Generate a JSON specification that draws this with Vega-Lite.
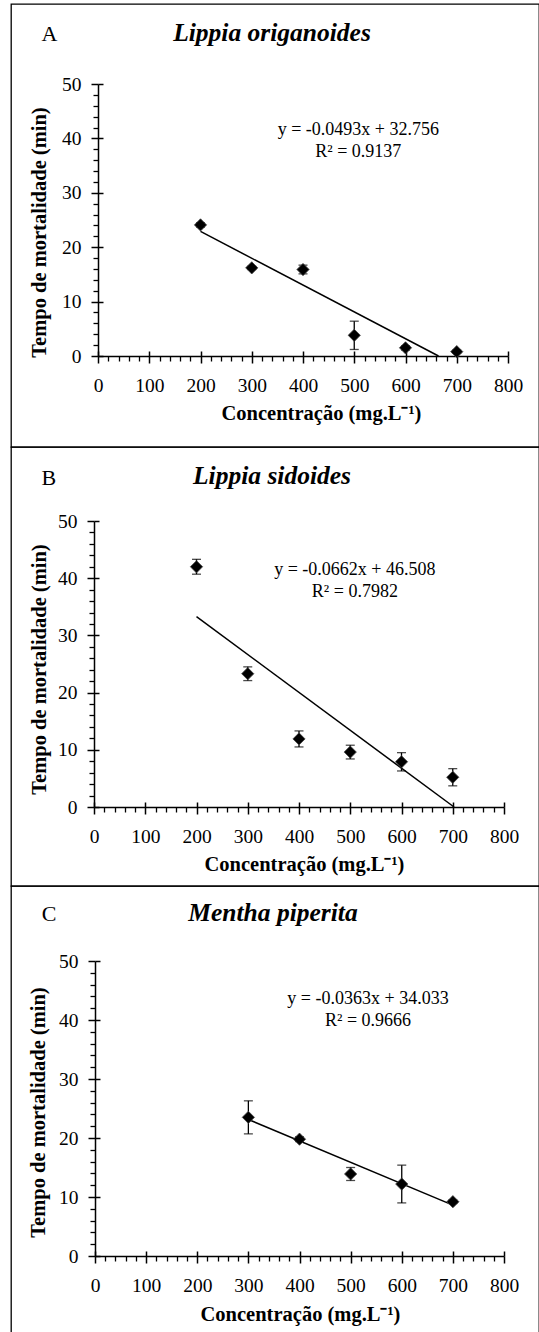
{
  "$schema": "https://vega.github.io/schema/vega-lite/v6.json",
  "background": "white",
  "padding": {"left": 10, "top": 3, "right": 0, "bottom": 0},
  "spacing": 0,
  "bounds": "flush",
  "config": {"view": {"stroke": "black", "strokeWidth": 1.3}, "font": "Liberation Serif"},
  "datasets": {
    "points": [
      {"panel": "A", "c": 200, "t": 24.1, "e": 0.4},
      {"panel": "A", "c": 300, "t": 16.2, "e": 0.3},
      {"panel": "A", "c": 400, "t": 15.9, "e": 0.8},
      {"panel": "A", "c": 500, "t": 3.8, "e": 2.6},
      {"panel": "A", "c": 600, "t": 1.5, "e": 0.4},
      {"panel": "A", "c": 700, "t": 0.8, "e": 0.3},
      {"panel": "B", "c": 200, "t": 42.0, "e": 1.3},
      {"panel": "B", "c": 300, "t": 23.3, "e": 1.2},
      {"panel": "B", "c": 400, "t": 11.9, "e": 1.4},
      {"panel": "B", "c": 500, "t": 9.6, "e": 1.2},
      {"panel": "B", "c": 600, "t": 7.9, "e": 1.6},
      {"panel": "B", "c": 700, "t": 5.2, "e": 1.5},
      {"panel": "C", "c": 300, "t": 23.5, "e": 2.8},
      {"panel": "C", "c": 400, "t": 19.8, "e": 0.4},
      {"panel": "C", "c": 500, "t": 13.9, "e": 1.1},
      {"panel": "C", "c": 600, "t": 12.2, "e": 3.2},
      {"panel": "C", "c": 700, "t": 9.2, "e": 0.3}
    ],
    "fits": [
      {"panel": "A", "c": 200, "t": 22.9},
      {"panel": "A", "c": 664.4, "t": 0},
      {"panel": "B", "c": 200, "t": 33.27},
      {"panel": "B", "c": 702.5, "t": 0},
      {"panel": "C", "c": 300, "t": 23.14},
      {"panel": "C", "c": 700, "t": 8.62}
    ]
  },
  "vconcat": [
    {
      "width": 528, "height": 443,
      "title": {"text": "Lippia origanoides", "font": "Liberation Serif", "fontSize": 25.5, "fontWeight": "bold", "fontStyle": "italic", "color": "black", "anchor": "middle", "frame": "group", "baseline": "alphabetic", "offset": -62, "dx": -3},
      "resolve": {"axis": {"x": "independent", "y": "independent"}},
      "layer": [
        {
          "data": {"name": "points"},
          "transform": [{"filter": "datum.panel === 'A'"}],
          "mark": {"type": "errorbar", "color": "black", "ticks": {"size": 9, "thickness": 1.3, "color": "black"}, "rule": {"strokeWidth": 1.3, "color": "black"}},
          "encoding": {
            "x": {"field": "c", "type": "quantitative", "axis": null},
            "y": {"field": "t", "type": "quantitative", "axis": null},
            "yError": {"field": "e"}
          }
        },
        {
          "data": {"name": "fits"},
          "transform": [{"filter": "datum.panel === 'A'"}],
          "mark": {"type": "line", "color": "black", "strokeWidth": 1.5},
          "encoding": {
            "x": {"field": "c", "type": "quantitative", "axis": null},
            "y": {"field": "t", "type": "quantitative", "axis": null}
          }
        },
        {
          "data": {"name": "points"},
          "transform": [{"filter": "datum.panel === 'A'"}],
          "mark": {"type": "point", "shape": "diamond", "filled": true, "size": 150, "color": "black", "opacity": 1, "stroke": "#444", "strokeWidth": 0.8},
          "encoding": {
            "x": {"field": "c", "type": "quantitative", "scale": {"domain": [0, 800], "range": [87, 497], "nice": false, "zero": false},
              "axis": {"orient": "bottom", "offset": -91, "values": [0,20,40,60,80,100,120,140,160,180,200,220,240,260,280,300,320,340,360,380,400,420,440,460,480,500,520,540,560,580,600,620,640,660,680,700,720,740,760,780,800], "grid": false, "domain": true, "domainColor": "black", "domainWidth": 1.5, "tickColor": "black", "tickWidth": {"condition": {"test": "datum.value % 100 === 0", "value": 1.5}, "value": 1.3}, "tickSize": {"condition": {"test": "datum.value % 100 === 0", "value": 7}, "value": 5}, "labelExpr": "datum.value % 100 === 0 ? datum.label : ''", "labelFont": "Liberation Serif", "labelFontSize": 19.5, "labelColor": "black", "labelPadding": 13, "labelFlush": false, "labelOverlap": false, "labelBound": false, "title": "Concentração (mg.L⁻¹)", "titleFont": "Liberation Serif", "titleFontSize": 20.5, "titleFontWeight": "bold", "titleColor": "black", "titleX": 310, "titleY": 57, "titleBaseline": "middle", "titleAlign": "center", "titleAngle": 0}},
            "y": {"field": "t", "type": "quantitative", "scale": {"domain": [0, 50], "range": [352, 80], "nice": false, "zero": false},
              "axis": {"orient": "left", "offset": -87, "values": [0,2,4,6,8,10,12,14,16,18,20,22,24,26,28,30,32,34,36,38,40,42,44,46,48,50], "grid": false, "domain": true, "domainColor": "black", "domainWidth": 1.5, "tickColor": "black", "tickWidth": {"condition": {"test": "datum.value % 10 === 0", "value": 1.5}, "value": 1.3}, "tickSize": {"condition": {"test": "datum.value % 10 === 0", "value": 7}, "value": 5}, "labelExpr": "datum.value % 10 === 0 ? datum.label : ''", "labelFont": "Liberation Serif", "labelFontSize": 19.5, "labelColor": "black", "labelPadding": 10, "labelOverlap": false, "labelBound": false, "labelFlush": false, "title": "Tempo de mortalidade (min)", "titleFont": "Liberation Serif", "titleFontSize": 20.5, "titleFontWeight": "bold", "titleColor": "black", "titleX": -59, "titleY": 228, "titleBaseline": "middle", "titleAlign": "center", "titleAngle": -90}}
          }
        },
        {
          "data": {"values": [{}]},
          "mark": {"type": "text", "text": ["y = -0.0493x + 32.756", "R² = 0.9137"], "font": "Liberation Serif", "fontSize": 18, "lineHeight": 22, "align": "center", "baseline": "middle", "color": "black", "clip": false},
          "encoding": {
            "x": {"datum": 508, "type": "quantitative", "axis": {"orient": "bottom", "offset": -91, "values": [0,100,200,300,400,500,600,700,800], "grid": false, "domain": false, "labels": false, "tickSize": -5, "tickWidth": 1.5, "tickColor": "black", "title": null}},
            "y": {"datum": 41.5, "type": "quantitative", "axis": {"orient": "left", "offset": -87, "values": [0,10,20,30,40,50], "grid": false, "domain": false, "labels": false, "tickSize": -5, "tickWidth": 1.5, "tickColor": "black", "title": null}}
          }
        },
        {
          "data": {"values": [{}]},
          "mark": {"type": "text", "text": "A", "font": "Liberation Serif", "fontSize": 22, "align": "center", "baseline": "middle", "color": "black", "clip": false},
          "encoding": {
            "x": {"datum": -95, "type": "quantitative", "axis": null},
            "y": {"datum": 59.2, "type": "quantitative", "axis": null}
          }
        }
      ]
    },
    {
      "width": 528, "height": 439,
      "title": {"text": "Lippia sidoides", "font": "Liberation Serif", "fontSize": 25.5, "fontWeight": "bold", "fontStyle": "italic", "color": "black", "anchor": "middle", "frame": "group", "baseline": "alphabetic", "offset": -62, "dx": -3},
      "resolve": {"axis": {"x": "independent", "y": "independent"}},
      "layer": [
        {
          "data": {"name": "points"},
          "transform": [{"filter": "datum.panel === 'B'"}],
          "mark": {"type": "errorbar", "color": "black", "ticks": {"size": 9, "thickness": 1.3, "color": "black"}, "rule": {"strokeWidth": 1.3, "color": "black"}},
          "encoding": {
            "x": {"field": "c", "type": "quantitative", "axis": null},
            "y": {"field": "t", "type": "quantitative", "axis": null},
            "yError": {"field": "e"}
          }
        },
        {
          "data": {"name": "fits"},
          "transform": [{"filter": "datum.panel === 'B'"}],
          "mark": {"type": "line", "color": "black", "strokeWidth": 1.5},
          "encoding": {
            "x": {"field": "c", "type": "quantitative", "axis": null},
            "y": {"field": "t", "type": "quantitative", "axis": null}
          }
        },
        {
          "data": {"name": "points"},
          "transform": [{"filter": "datum.panel === 'B'"}],
          "mark": {"type": "point", "shape": "diamond", "filled": true, "size": 150, "color": "black", "opacity": 1, "stroke": "#444", "strokeWidth": 0.8},
          "encoding": {
            "x": {"field": "c", "type": "quantitative", "scale": {"domain": [0, 800], "range": [83, 493], "nice": false, "zero": false},
              "axis": {"orient": "bottom", "offset": -79, "values": [0,20,40,60,80,100,120,140,160,180,200,220,240,260,280,300,320,340,360,380,400,420,440,460,480,500,520,540,560,580,600,620,640,660,680,700,720,740,760,780,800], "grid": false, "domain": true, "domainColor": "black", "domainWidth": 1.5, "tickColor": "black", "tickWidth": {"condition": {"test": "datum.value % 100 === 0", "value": 1.5}, "value": 1.3}, "tickSize": {"condition": {"test": "datum.value % 100 === 0", "value": 7}, "value": 5}, "labelExpr": "datum.value % 100 === 0 ? datum.label : ''", "labelFont": "Liberation Serif", "labelFontSize": 19.5, "labelColor": "black", "labelPadding": 13, "labelFlush": false, "labelOverlap": false, "labelBound": false, "title": "Concentração (mg.L⁻¹)", "titleFont": "Liberation Serif", "titleFontSize": 20.5, "titleFontWeight": "bold", "titleColor": "black", "titleX": 293, "titleY": 57, "titleBaseline": "middle", "titleAlign": "center", "titleAngle": 0}},
            "y": {"field": "t", "type": "quantitative", "scale": {"domain": [0, 50], "range": [360, 74], "nice": false, "zero": false},
              "axis": {"orient": "left", "offset": -83, "values": [0,2,4,6,8,10,12,14,16,18,20,22,24,26,28,30,32,34,36,38,40,42,44,46,48,50], "grid": false, "domain": true, "domainColor": "black", "domainWidth": 1.5, "tickColor": "black", "tickWidth": {"condition": {"test": "datum.value % 10 === 0", "value": 1.5}, "value": 1.3}, "tickSize": {"condition": {"test": "datum.value % 10 === 0", "value": 7}, "value": 5}, "labelExpr": "datum.value % 10 === 0 ? datum.label : ''", "labelFont": "Liberation Serif", "labelFontSize": 19.5, "labelColor": "black", "labelPadding": 10, "labelOverlap": false, "labelBound": false, "labelFlush": false, "title": "Tempo de mortalidade (min)", "titleFont": "Liberation Serif", "titleFontSize": 20.5, "titleFontWeight": "bold", "titleColor": "black", "titleX": -55, "titleY": 222, "titleBaseline": "middle", "titleAlign": "center", "titleAngle": -90}}
          }
        },
        {
          "data": {"values": [{}]},
          "mark": {"type": "text", "text": ["y = -0.0662x + 46.508", "R² = 0.7982"], "font": "Liberation Serif", "fontSize": 18, "lineHeight": 22, "align": "center", "baseline": "middle", "color": "black", "clip": false},
          "encoding": {
            "x": {"datum": 509, "type": "quantitative", "axis": {"orient": "bottom", "offset": -79, "values": [0,100,200,300,400,500,600,700,800], "grid": false, "domain": false, "labels": false, "tickSize": -5, "tickWidth": 1.5, "tickColor": "black", "title": null}},
            "y": {"datum": 41.4, "type": "quantitative", "axis": {"orient": "left", "offset": -83, "values": [0,10,20,30,40,50], "grid": false, "domain": false, "labels": false, "tickSize": -5, "tickWidth": 1.5, "tickColor": "black", "title": null}}
          }
        },
        {
          "data": {"values": [{}]},
          "mark": {"type": "text", "text": "B", "font": "Liberation Serif", "fontSize": 22, "align": "center", "baseline": "middle", "color": "black", "clip": false},
          "encoding": {
            "x": {"datum": -88, "type": "quantitative", "axis": null},
            "y": {"datum": 57.5, "type": "quantitative", "axis": null}
          }
        }
      ]
    },
    {
      "width": 528, "height": 450,
      "title": {"text": "Mentha piperita", "font": "Liberation Serif", "fontSize": 25.5, "fontWeight": "bold", "fontStyle": "italic", "color": "black", "anchor": "middle", "frame": "group", "baseline": "alphabetic", "offset": -60, "dx": -2},
      "resolve": {"axis": {"x": "independent", "y": "independent"}},
      "layer": [
        {
          "data": {"name": "points"},
          "transform": [{"filter": "datum.panel === 'C'"}],
          "mark": {"type": "errorbar", "color": "black", "ticks": {"size": 9, "thickness": 1.3, "color": "black"}, "rule": {"strokeWidth": 1.3, "color": "black"}},
          "encoding": {
            "x": {"field": "c", "type": "quantitative", "axis": null},
            "y": {"field": "t", "type": "quantitative", "axis": null},
            "yError": {"field": "e"}
          }
        },
        {
          "data": {"name": "fits"},
          "transform": [{"filter": "datum.panel === 'C'"}],
          "mark": {"type": "line", "color": "black", "strokeWidth": 1.5},
          "encoding": {
            "x": {"field": "c", "type": "quantitative", "axis": null},
            "y": {"field": "t", "type": "quantitative", "axis": null}
          }
        },
        {
          "data": {"name": "points"},
          "transform": [{"filter": "datum.panel === 'C'"}],
          "mark": {"type": "point", "shape": "diamond", "filled": true, "size": 150, "color": "black", "opacity": 1, "stroke": "#444", "strokeWidth": 0.8},
          "encoding": {
            "x": {"field": "c", "type": "quantitative", "scale": {"domain": [0, 800], "range": [84, 493], "nice": false, "zero": false},
              "axis": {"orient": "bottom", "offset": -80, "values": [0,20,40,60,80,100,120,140,160,180,200,220,240,260,280,300,320,340,360,380,400,420,440,460,480,500,520,540,560,580,600,620,640,660,680,700,720,740,760,780,800], "grid": false, "domain": true, "domainColor": "black", "domainWidth": 1.5, "tickColor": "black", "tickWidth": {"condition": {"test": "datum.value % 100 === 0", "value": 1.5}, "value": 1.3}, "tickSize": {"condition": {"test": "datum.value % 100 === 0", "value": 7}, "value": 5}, "labelExpr": "datum.value % 100 === 0 ? datum.label : ''", "labelFont": "Liberation Serif", "labelFontSize": 19.5, "labelColor": "black", "labelPadding": 13, "labelFlush": false, "labelOverlap": false, "labelBound": false, "title": "Concentração (mg.L⁻¹)", "titleFont": "Liberation Serif", "titleFontSize": 20.5, "titleFontWeight": "bold", "titleColor": "black", "titleX": 289, "titleY": 58, "titleBaseline": "middle", "titleAlign": "center", "titleAngle": 0}},
            "y": {"field": "t", "type": "quantitative", "scale": {"domain": [0, 50], "range": [370, 75], "nice": false, "zero": false},
              "axis": {"orient": "left", "offset": -84, "values": [0,2,4,6,8,10,12,14,16,18,20,22,24,26,28,30,32,34,36,38,40,42,44,46,48,50], "grid": false, "domain": true, "domainColor": "black", "domainWidth": 1.5, "tickColor": "black", "tickWidth": {"condition": {"test": "datum.value % 10 === 0", "value": 1.5}, "value": 1.3}, "tickSize": {"condition": {"test": "datum.value % 10 === 0", "value": 7}, "value": 5}, "labelExpr": "datum.value % 10 === 0 ? datum.label : ''", "labelFont": "Liberation Serif", "labelFontSize": 19.5, "labelColor": "black", "labelPadding": 10, "labelOverlap": false, "labelBound": false, "labelFlush": false, "title": "Tempo de mortalidade (min)", "titleFont": "Liberation Serif", "titleFontSize": 20.5, "titleFontWeight": "bold", "titleColor": "black", "titleX": -57, "titleY": 226, "titleBaseline": "middle", "titleAlign": "center", "titleAngle": -90}}
          }
        },
        {
          "data": {"values": [{}]},
          "mark": {"type": "text", "text": ["y = -0.0363x + 34.033", "R² = 0.9666"], "font": "Liberation Serif", "fontSize": 18, "lineHeight": 22, "align": "center", "baseline": "middle", "color": "black", "clip": false},
          "encoding": {
            "x": {"datum": 534, "type": "quantitative", "axis": {"orient": "bottom", "offset": -80, "values": [0,100,200,300,400,500,600,700,800], "grid": false, "domain": false, "labels": false, "tickSize": -5, "tickWidth": 1.5, "tickColor": "black", "title": null}},
            "y": {"datum": 43.5, "type": "quantitative", "axis": {"orient": "left", "offset": -84, "values": [0,10,20,30,40,50], "grid": false, "domain": false, "labels": false, "tickSize": -5, "tickWidth": 1.5, "tickColor": "black", "title": null}}
          }
        },
        {
          "data": {"values": [{}]},
          "mark": {"type": "text", "text": "C", "font": "Liberation Serif", "fontSize": 22, "align": "center", "baseline": "middle", "color": "black", "clip": false},
          "encoding": {
            "x": {"datum": -90, "type": "quantitative", "axis": null},
            "y": {"datum": 58, "type": "quantitative", "axis": null}
          }
        }
      ]
    }
  ]
}
